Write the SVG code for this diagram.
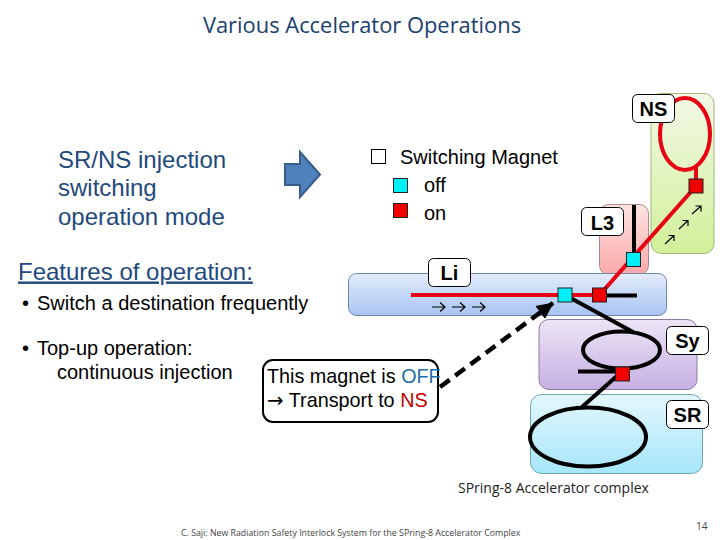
<svg xmlns="http://www.w3.org/2000/svg" width="720" height="540" viewBox="0 0 720 540">
<style>
.s{font-family:"Liberation Sans",Arial,sans-serif;fill:#000}
.o{font-family:"Open Sans",sans-serif}
.lab{fill:#fff;stroke:#000;stroke-width:1}
.labt{font-family:"Liberation Sans",Arial,sans-serif;font-size:20px;font-weight:bold;text-anchor:middle}
.bl{fill:none;stroke:#000;stroke-width:4}
.rd{fill:none;stroke:#e60012;stroke-width:4}
.ar{fill:none;stroke:#000;stroke-width:1.2}
.ms{stroke:#222;stroke-width:1}
.c{fill:#00f0f8}
.r{fill:#f00000}
.a{font-family:"DejaVu Sans",sans-serif}
</style>
<defs>
<linearGradient id="gNS" x1="0" y1="0" x2="0" y2="1"><stop offset="0" stop-color="#f2f8e6"/><stop offset="1" stop-color="#d2f09a"/></linearGradient>
<linearGradient id="gL3" x1="0" y1="0" x2="0" y2="1"><stop offset="0" stop-color="#fde3e3"/><stop offset="1" stop-color="#fba9a9"/></linearGradient>
<linearGradient id="gLi" x1="0" y1="0" x2="0" y2="1"><stop offset="0" stop-color="#e3ecfa"/><stop offset="1" stop-color="#a8c4f2"/></linearGradient>
<linearGradient id="gSy" x1="0" y1="0" x2="0" y2="1"><stop offset="0" stop-color="#ece5f6"/><stop offset="1" stop-color="#c6b0e2"/></linearGradient>
<linearGradient id="gSR" x1="0" y1="0" x2="0" y2="1"><stop offset="0" stop-color="#e4f7fc"/><stop offset="1" stop-color="#a6e6fa"/></linearGradient>
<marker id="dash" markerUnits="userSpaceOnUse" markerWidth="18" markerHeight="18" refX="16" refY="9" orient="auto"><path d="M0 1 L17 9 L0 17 Z" fill="#000"/></marker>
</defs>
<rect width="720" height="540" fill="#fff"/>
<text class="o" x="362" y="33" font-size="21.900" text-anchor="middle" fill="#17406e">Various Accelerator Operations</text>

<g id="mode"><text class="s" font-size="24" x="58" y="168" style="fill:#1f497d">SR/NS injection</text>
<text class="s" font-size="24" x="58" y="196" style="fill:#1f497d">switching</text>
<text class="s" font-size="24" x="58" y="225" style="fill:#1f497d">operation mode</text></g>
<g id="block-arrow"><path d="M285 164H300V152L320 174.500L300 197V185H285Z" fill="#4f81bd" stroke="#385d8a" stroke-width="2"/></g>
<g id="legend">
<rect x="371.500" y="149.500" width="14" height="14" fill="#fff" stroke="#000"/>
<text class="s" font-size="20" x="400" y="164">Switching Magnet</text>
<rect class="c ms" x="393.500" y="178.500" width="14" height="14"/>
<text class="s" font-size="20" x="424" y="192">off</text>
<rect class="r ms" x="393.500" y="203.500" width="14" height="14"/>
<text class="s" font-size="20" x="424" y="220">on</text>
</g>
<g id="features"><text class="s" font-size="24" x="18" y="279.500" text-decoration="underline" style="fill:#1f497d">Features of operation:</text>
<text class="s" font-size="20" x="22" y="310">• <tspan x="37">Switch a destination frequently</tspan></text>
<text class="s" font-size="20" x="22" y="355">• <tspan x="37">Top-up operation:</tspan></text>
<text class="s" font-size="20" x="57" y="379">continuous injection</text></g>

<g id="NS"><rect x="651" y="93.500" width="63" height="160" rx="10" fill="url(#gNS)" stroke="#a3b877"/></g>
<g id="L3"><rect x="599.500" y="204.500" width="49" height="70" rx="9" fill="url(#gL3)" stroke="#b08a8a"/></g>
<g id="Li"><rect x="348.500" y="273.500" width="318" height="42" rx="8" fill="url(#gLi)" stroke="#6f86a8"/></g>
<g id="Sy"><rect x="539" y="319.500" width="158" height="70" rx="10" fill="url(#gSy)" stroke="#8a7aa3"/></g>
<g id="SR"><rect x="530.500" y="394.500" width="172" height="79" rx="11" fill="url(#gSR)" stroke="#6ea6b5"/></g>

<g id="connectors">
<ellipse class="rd" cx="685" cy="134" rx="25" ry="36"/>
<path class="rd" d="M696 165V186L599.500 295H411"/>
<path class="bl" d="M634 205V259M607 295.500H637M565 295L633 332M578 371.500H622L582 407"/>
<ellipse class="bl" cx="621.500" cy="350" rx="38.500" ry="18.500"/>
<ellipse class="bl" cx="588" cy="437" rx="58" ry="29.500"/>
<path d="M440 387L553 303" fill="none" stroke="#000" stroke-width="4.500" stroke-dasharray="12 7" marker-end="url(#dash)"/>
<path class="ar" d="M432 307H445M440 302.500L445 307L440 311.500M452 307H465M460 302.500L465 307L460 311.500M472 307H485M480 302.500L485 307L480 311.500"/>
<path class="ar" d="M665 244L674 235.500M668.500 235.500H674V241M679 229L688 220.500M682.500 220.500H688V226M692 214L701 206M695.500 206H701V211.500"/>
</g>

<g id="switches">
<rect class="r ms" x="689" y="179" width="14" height="14"/>
<rect class="c ms" x="626.500" y="252.500" width="14" height="14"/>
<rect class="c ms" x="558" y="288" width="14" height="14"/>
<rect class="r ms" x="592.500" y="288" width="14" height="14"/>
<rect class="r ms" x="615.500" y="367" width="14" height="14"/>
</g>

<g id="label-NS"><rect class="lab" x="632.500" y="94.500" width="42" height="28" rx="5"/><text class="labt" x="653.500" y="116">NS</text></g>
<g id="label-L3"><rect class="lab" x="581.500" y="207.500" width="42" height="28" rx="5"/><text class="labt" x="602.500" y="230">L3</text></g>
<g id="label-Li"><rect class="lab" x="428.500" y="258.500" width="42" height="28" rx="5"/><text class="labt" x="449.500" y="280">Li</text></g>
<g id="label-Sy"><rect class="lab" x="666.500" y="326.500" width="42" height="28" rx="5"/><text class="labt" x="687.500" y="348">Sy</text></g>
<g id="label-SR"><rect class="lab" x="666.500" y="400.500" width="42" height="28" rx="5"/><text class="labt" x="687.500" y="422">SR</text></g>

<g id="callout"><rect x="263" y="360" width="175" height="62" rx="10" fill="#fff" stroke="#000" stroke-width="2"/>
<text class="s" font-size="19.800" x="267" y="383">This magnet is <tspan style="fill:#1f6fa8">OFF</tspan></text>
<text class="s" font-size="19.800" x="267" y="407"><tspan class="a">→</tspan> Transport to <tspan style="fill:#c00000">NS</tspan></text></g>

<text class="o" x="458" y="493" font-size="14" fill="#222">SPring-8 Accelerator complex</text>
<text class="o" x="181" y="536" font-size="8.800" fill="#444">C. Saji: New Radiation Safety Interlock System for the SPring-8 Accelerator Complex</text>
<text class="o" x="696" y="530" font-size="10" fill="#444">14</text>
</svg>
